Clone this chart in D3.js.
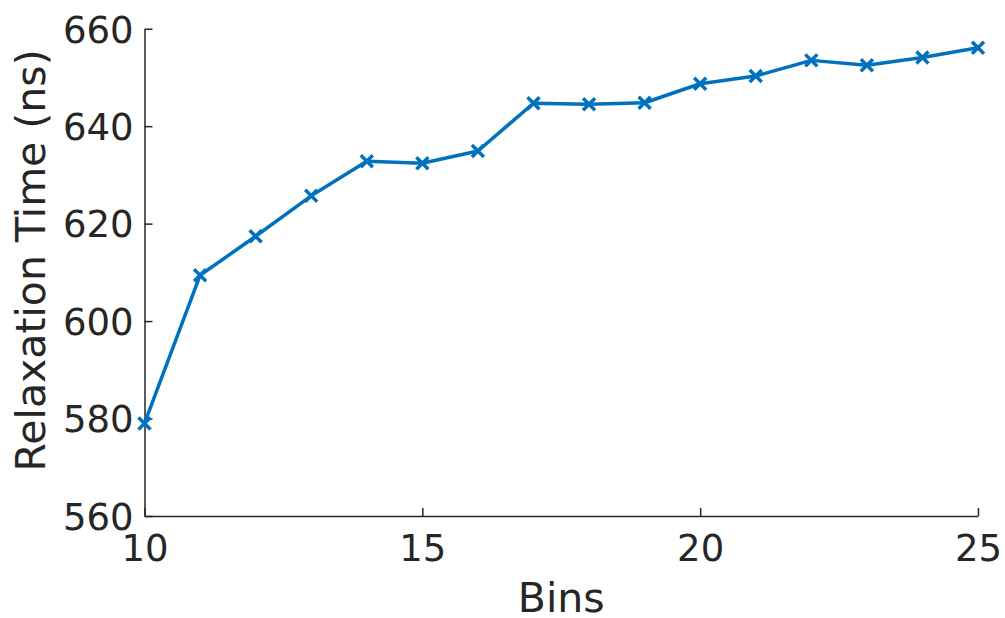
<!DOCTYPE html>
<html>
<head>
<meta charset="utf-8">
<script src="https://cdn.jsdelivr.net/npm/d3@7"></script>
<style>
  html, body { margin: 0; padding: 0; background: #fff; }
  svg { display: block; font-family: "DejaVu Sans", sans-serif; }
</style>
</head>
<body>
<svg id="chart" width="1005" height="618"></svg>
<script>
// Relaxation time against number of bins
const bins = [10, 11, 12, 13, 14, 15, 16, 17, 18, 19, 20, 21, 22, 23, 24, 25];
const relaxTime = [579.0, 609.4, 617.4, 625.7, 632.8, 632.4, 634.9, 644.7, 644.5, 644.8,
                   648.7, 650.3, 653.5, 652.5, 654.1, 656.1];
const xTicks = [10, 15, 20, 25];
const yTicks = [560, 580, 600, 620, 640, 660];
const xLabel = "Bins";
const yLabel = "Relaxation Time (ns)";

const svg = d3.select("#chart");
const margin = { left: 144.5, right: 1005 - 978, top: 28.7, bottom: 618 - 516 };
const W = 1005, H = 618;
const axisColor = "#262626";
const lineColor = "#0072BD";

const x = d3.scaleLinear().domain([10, 25]).range([margin.left, W - margin.right]);
const y = d3.scaleLinear().domain([560, 660]).range([H - margin.bottom, margin.top]);

// x axis: ticks point inward (upward)
const gx = svg.append("g")
  .attr("transform", `translate(0,${y(560)})`)
  .call(d3.axisBottom(x).tickValues(xTicks).tickSize(-8).tickSizeOuter(0).tickPadding(19));
// y axis: ticks point inward (rightward)
const gy = svg.append("g")
  .attr("transform", `translate(${x(10)},0)`)
  .call(d3.axisLeft(y).tickValues(yTicks).tickSize(-8).tickSizeOuter(0).tickPadding(11));

[gx, gy].forEach(g => {
  g.select(".domain").attr("stroke", axisColor).attr("stroke-width", 1.5);
  g.selectAll(".tick line").attr("stroke", axisColor).attr("stroke-width", 1.5);
  g.selectAll(".tick text").attr("fill", axisColor).attr("font-size", 37)
    .attr("font-family", "DejaVu Sans, sans-serif");
});
gx.selectAll(".tick text").attr("dy", "0.71em");
gy.selectAll(".tick text").attr("dy", "0.36em");

// axis titles
svg.append("text")
  .attr("x", (x(10) + x(25)) / 2)
  .attr("y", 612)
  .attr("text-anchor", "middle")
  .attr("fill", axisColor)
  .attr("font-size", 41)
  .text(xLabel);

svg.append("text")
  .attr("transform", `translate(45,${(y(560) + y(660)) / 2 - 12}) rotate(-90)`)
  .attr("text-anchor", "middle")
  .attr("fill", axisColor)
  .attr("font-size", 41)
  .text(yLabel);

// data line
const pts = bins.map((b, i) => [b, relaxTime[i]]);
svg.append("path")
  .datum(pts)
  .attr("fill", "none")
  .attr("stroke", lineColor)
  .attr("stroke-width", 3.5)
  .attr("stroke-linejoin", "round")
  .attr("d", d3.line().x(d => x(d[0])).y(d => y(d[1])));

// x markers
const m = 6;
svg.append("g").selectAll("path")
  .data(pts)
  .join("path")
  .attr("fill", "none")
  .attr("stroke", lineColor)
  .attr("stroke-width", 3.5)
  .attr("d", d => {
    const cx = x(d[0]), cy = y(d[1]);
    return `M${cx - m},${cy - m}L${cx + m},${cy + m}M${cx - m},${cy + m}L${cx + m},${cy - m}`;
  });
</script>
</body>
</html>
